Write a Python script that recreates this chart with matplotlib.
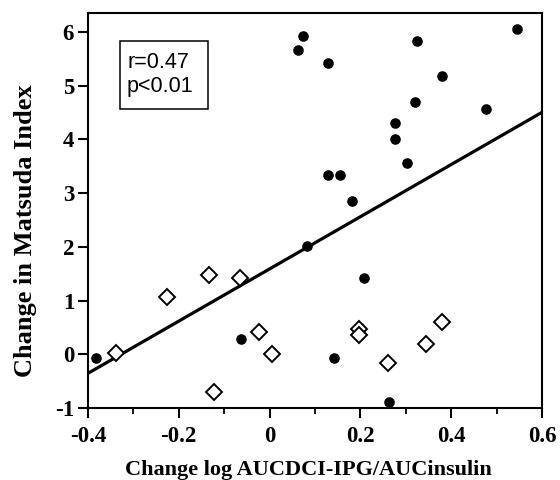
import numpy as np
import matplotlib
matplotlib.use("Agg")
import matplotlib.pyplot as plt
from matplotlib.patches import Rectangle
from matplotlib.ticker import MultipleLocator

plt.rcParams['axes.unicode_minus'] = False

# Filled circles
circ_x = [0.074, 0.063, 0.546, 0.324, 0.129, 0.380, 0.320, 0.477, 0.277, 0.277,
          0.302, 0.129, 0.155, 0.181, 0.083, 0.208, -0.063, 0.142, -0.383, 0.263]
circ_y = [5.93, 5.67, 6.06, 5.84, 5.43, 5.18, 4.70, 4.56, 4.30, 4.00,
          3.56, 3.34, 3.34, 2.86, 2.02, 1.42, 0.29, -0.07, -0.07, -0.89]

# Open diamonds
diam_x = [-0.338, -0.225, -0.133, -0.065, -0.023, 0.006, -0.122, 0.196, 0.196,
          0.379, 0.344, 0.261]
diam_y = [0.03, 1.07, 1.48, 1.42, 0.42, 0.01, -0.70, 0.47, 0.36, 0.60, 0.19, -0.17]

# Regression line
fit_slope = 4.86
fit_intercept = 1.59
line_x = [-0.4, 0.6]

x_ticks = [-0.4, -0.2, 0, 0.2, 0.4, 0.6]
x_ticklabels = ["-0.4", "-0.2", "0", "0.2", "0.4", "0.6"]
y_ticks = [-1, 0, 1, 2, 3, 4, 5, 6]

serif = ["Liberation Serif", "DejaVu Serif"]
sans = ["Liberation Sans", "DejaVu Sans"]

fig = plt.figure(figsize=(5.6, 4.8), dpi=100)
ax = fig.add_axes([88/560, 1 - 408/480, 454/560, (408 - 13.3)/480])

ax.plot(line_x, [fit_intercept + fit_slope * v for v in line_x], color="black", lw=2.3, zorder=2)
ax.plot(circ_x, circ_y, 'o', color="black", ms=6.6, zorder=3)
ax.plot(diam_x, diam_y, 'D', mfc="white", mec="black", mew=1.4, ms=8.2, zorder=3)

ax.set_xlim(-0.4, 0.6)
ax.set_ylim(-1, 6.35)
ax.set_xticks(x_ticks)
ax.set_xticklabels(x_ticklabels)
ax.set_yticks(y_ticks)
ax.xaxis.set_minor_locator(MultipleLocator(0.1))

for s in ax.spines.values():
    s.set_linewidth(1.5)

ax.tick_params(axis='both', which='major', direction='out', length=7, width=1.5,
               labelsize=16.5)
ax.tick_params(axis='x', which='major', pad=6)
ax.tick_params(axis='y', which='major', pad=3)
ax.tick_params(axis='x', which='minor', direction='out', length=4.5, width=1.3)
for lab in ax.get_xticklabels() + ax.get_yticklabels():
    lab.set_fontfamily(serif)
    lab.set_fontweight("bold")

ax.set_xlabel("Change log AUCDCI-IPG/AUCinsulin", fontsize=16, fontweight="bold",
              family=serif)
ax.xaxis.set_label_coords(0.485, -0.183)
ax.xaxis.label.set_va("bottom")
ax.set_ylabel("Change in Matsuda Index", fontsize=19, fontweight="bold",
              family=serif)
ax.yaxis.set_label_coords(-0.112, 0.448)

ax.add_patch(Rectangle((0.0705, 0.7577), 0.2637 - 0.0705, 0.9289 - 0.7577,
                       transform=ax.transAxes, fill=False, edgecolor="black",
                       lw=1.1, zorder=4))
ax.text(0.086, 0.845, "r=0.47\np<0.01", transform=ax.transAxes, ha="left", va="center",
        fontsize=15.5, family=sans, linespacing=1.2, zorder=5)

fig.savefig("out.png", dpi=100)
